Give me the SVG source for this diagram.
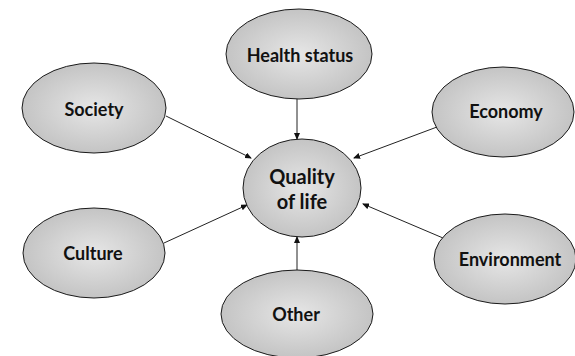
<svg xmlns="http://www.w3.org/2000/svg" width="575" height="356" viewBox="0 0 575 356">
  <style>
    .node ellipse { fill: url(#shade); stroke: #1a1a1a; stroke-width: 1; }
    .node text { font-family: Lato, "Open Sans", "Liberation Sans", sans-serif; font-weight: bold; font-size: 18px; fill: #111; text-anchor: middle; }
    .node text.big { font-size: 20px; }
    .links line { stroke: #222; stroke-width: 1; marker-end: url(#tip); }
  </style>
  <defs>
    <radialGradient id="shade" cx="50%" cy="50%" r="50%">
      <stop offset="0" stop-color="#e6e6e6"/>
      <stop offset="1" stop-color="#c4c4c4"/>
    </radialGradient>
    <marker id="tip" markerWidth="7" markerHeight="6" refX="6" refY="3" orient="auto" markerUnits="userSpaceOnUse">
      <path d="M0,0 L7,3 L0,6 Z" fill="#111"/>
    </marker>
  </defs>

  <rect width="575" height="356" fill="#fff"/>

  <g class="links">
    <line x1="297" y1="99" x2="297" y2="139"/>
    <line x1="166" y1="116" x2="251" y2="158"/>
    <line x1="437" y1="127" x2="354" y2="158"/>
    <line x1="164" y1="243" x2="247" y2="205"/>
    <line x1="443" y1="238" x2="363" y2="204"/>
    <line x1="297" y1="270" x2="297" y2="237"/>
  </g>

  <g id="quality" class="node">
    <ellipse cx="302" cy="188" rx="59" ry="49"/>
    <text class="big" x="302" y="184">Quality</text>
    <text class="big" x="302" y="209">of life</text>
  </g>
  <g id="health" class="node">
    <ellipse cx="299" cy="54" rx="73" ry="45"/>
    <text x="300" y="62">Health status</text>
  </g>
  <g id="society" class="node">
    <ellipse cx="94" cy="108" rx="72" ry="45"/>
    <text x="94" y="116">Society</text>
  </g>
  <g id="economy" class="node">
    <ellipse cx="503" cy="112" rx="71" ry="45"/>
    <text x="506" y="118">Economy</text>
  </g>
  <g id="culture" class="node">
    <ellipse cx="94" cy="253" rx="71" ry="45"/>
    <text x="93" y="260">Culture</text>
  </g>
  <g id="environment" class="node">
    <ellipse cx="505" cy="259" rx="71" ry="45"/>
    <text x="510" y="266">Environment</text>
  </g>
  <g id="other" class="node">
    <ellipse cx="297" cy="314" rx="76" ry="44"/>
    <text x="296" y="321">Other</text>
  </g>
</svg>
